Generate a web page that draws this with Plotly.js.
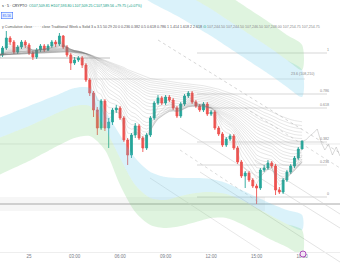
<!DOCTYPE html>
<html><head><meta charset="utf-8">
<script src="https://cdn.plot.ly/plotly-3.0.1.min.js"></script>
<style>html,body{margin:0;padding:0;background:#fff;overflow:hidden}#chart{width:340px;height:270px}</style>
</head><body><div id="chart"></div>
<script>
// ---- candle data (15-minute bars, 24 Jun 22:00 -> 25 Jun 18:00) ----
const opens = [108420,108450,108520,108620,108580,108480,108530,108580,108550,108470,108430,108500,108540,108500,108540,108580,108560,108640,108530,108450,108370,108400,108420,108350,108200,108070,107900,107720,107990,107720,107780,107900,107920,107820,107600,107450,107650,107740,107620,107520,107650,107820,107970,108020,107970,108030,108000,107920,107840,107960,108040,108070,107980,107940,107900,107960,107860,107880,107720,107660,107550,107610,107640,107520,107380,107240,107270,107200,107140,107120,107300,107320,107370,107340,107100,107080,107200,107280,107340,107420,107509.81];
const highs = [108480,108540,108690,108640,108600,108550,108600,108600,108570,108490,108520,108560,108560,108560,108600,108600,108670,108650,108550,108470,108430,108440,108440,108370,108220,108090,107930,108010,108010,107820,107920,107950,107940,107840,107620,107670,107770,107760,107640,107670,107840,107990,108050,108040,108050,108050,108020,107940,107980,108060,108090,108090,108000,107960,107980,107980,107900,107900,107740,107680,107630,107660,107660,107540,107400,107290,107290,107220,107160,107320,107350,107400,107390,107360,107130,107220,107300,107360,107440,107530,107593.80];
const lows = [108400,108430,108500,108550,108460,108460,108510,108520,108450,108400,108410,108480,108480,108490,108520,108530,108540,108510,108430,108300,108350,108380,108320,108180,108040,107830,107650,107700,107690,107520,107750,107870,107800,107580,107350,107420,107620,107600,107480,107500,107630,107800,107950,107950,107950,107980,107900,107820,107820,107940,108020,107960,107920,107880,107880,107840,107840,107700,107640,107530,107530,107590,107500,107360,107220,107120,107180,107120,106960,107100,107280,107300,107320,107050,107060,107060,107180,107260,107320,107400,107509.25];
const closes = [108450,108520,108620,108580,108480,108530,108580,108550,108470,108430,108500,108540,108500,108540,108580,108560,108640,108530,108450,108370,108400,108420,108350,108200,108070,107900,107720,107990,107720,107780,107900,107920,107820,107600,107450,107650,107740,107620,107520,107650,107820,107970,108020,107970,108030,108000,107920,107840,107960,108040,108070,107980,107940,107900,107960,107860,107880,107720,107660,107550,107610,107640,107520,107380,107240,107270,107200,107140,107120,107300,107320,107370,107340,107100,107080,107200,107280,107340,107420,107510,107589.56];

// ---- envelope bands (hourly, 22:00 -> 18:00) ----
const lowerInner = [107820,107880,107940,108000,108060,108120,108120,107900,107650,107420,107280,107230,107220,107220,107210,107170,107100,107030,106960,106900,106850];
const lowerMid   = [107620,107680,107740,107810,107880,107940,107940,107720,107420,107150,107020,107000,107040,107070,107080,107060,107000,106920,106840,106760,106700];
const lowerOuter = [107250,107320,107390,107470,107550,107620,107640,107500,107150,106880,106750,106720,106740,106780,106820,106820,106760,106680,106600,106530,106450];
const upperInner = [109800,109740,109680,109600,109520,109440,109360,109260,109170,109080,108980,108900,108820,108730,108640,108540,108440,108340,108240,108130,108030];
const upperMid   = [110070,110010,109950,109870,109790,109710,109630,109530,109440,109350,109250,109170,109090,109000,108910,108810,108710,108610,108510,108400,108300];
const upperOuter = [110320,110260,110200,110120,110040,109960,109880,109780,109690,109600,109500,109420,109340,109250,109160,109060,108960,108860,108760,108650,108550];

// ---- projection after last bar (15-minute steps from 18:00) ----
const projection = [107590,107600,107640,107670,107710,107580,107500,107560,107450,107530,107440];

// ---- ribbon lengths ----
const emaLengths = [3,5,7,9,11,13,15,18,21,24,27,30,34,38,42,46,50,55,60,66,72,80];

// ---- levels ----
const fibLabels = ['1','0.786','0.618','0.382','0.236','0'];
const fibPrices = [108470,108060,107920,107580,107350,107030];
const tickTimes = ['2025-06-25 00:00','2025-06-25 03:00','2025-06-25 06:00','2025-06-25 09:00','2025-06-25 12:00','2025-06-25 15:00','2025-06-25 18:00'];
const tickLabels = ['25','03:00','06:00','09:00','12:00','15:00','18:00'];

const T0 = Date.UTC(2025,5,24,22,0);
const ts = ms => new Date(ms).toISOString().slice(0,16).replace('T',' ');
const times = closes.map((_,i)=>ts(T0+i*900000));
const hourTimes = lowerInner.map((_,i)=>ts(T0+i*3600000));
const projTimes = projection.map((_,i)=>ts(T0+80*900000+i*900000));

function ema(arr,n){const k=2/(n+1);let e=arr[0];return arr.map(v=>(e=v*k+e*(1-k)));}

const traces = [];
const band = (a,b,color)=>({type:'scatter',mode:'lines',x:hourTimes.concat(hourTimes.slice().reverse()),y:a.concat(b.slice().reverse()),
  line:{width:0,shape:'spline',smoothing:0.8},fill:'toself',fillcolor:color,hoverinfo:'skip'});
const CY='rgba(100,200,235,0.24)', GR='rgba(120,210,120,0.24)';
traces.push(band(lowerInner,lowerMid,CY));
traces.push(band(lowerMid,lowerOuter,GR));
traces.push(band(upperInner,upperMid,CY));
traces.push(band(upperMid,upperOuter,GR));

emaLengths.forEach(n=>traces.push({type:'scatter',mode:'lines',x:times,y:ema(closes,n),line:{color:'rgba(120,120,120,0.36)',width:0.5},hoverinfo:'skip'}));

traces.push({type:'scatter',mode:'lines',x:projTimes,y:projection,line:{color:'rgba(150,150,150,0.6)',width:0.6},hoverinfo:'skip'});

traces.push({type:'candlestick',x:times,open:opens,high:highs,low:lows,close:closes,whiskerwidth:0,
  increasing:{line:{color:'#26a69a',width:0.9},fillcolor:'#26a69a'},
  decreasing:{line:{color:'#ef5350',width:0.9},fillcolor:'#ef5350'},hoverinfo:'skip'});

const X = px=>px/340, Y = py=>1-py/252;
const shapes = [];
const hline=(y,x0,x1,color,w,dash)=>shapes.push({type:'line',xref:'paper',yref:'y',x0:X(x0),x1:X(x1),y0:y,y1:y,line:{color:color,width:w,dash:dash||'solid'},layer:'below'});
fibPrices.forEach(p=>hline(p,197,327,'#bdbdbd',0.6));
hline(108210,0,305,'#d0d0d0',0.6);
hline(108420,0,110,'#b0b0b0',0.8);
hline(107560,0,340,'#dcdcdc',0.6);
shapes.push({type:'rect',xref:'paper',yref:'y',x0:0,x1:X(265),y0:106890,y1:107030,fillcolor:'rgba(0,0,0,0.035)',line:{width:0},layer:'below'});
hline(106960,0,340,'#a8a8a8',1);
const dline=(x0,y0,x1,y1,color,dash)=>shapes.push({type:'line',xref:'paper',yref:'paper',x0:X(x0),y0:Y(y0),x1:X(x1),y1:Y(y1),line:{color:color,width:0.6,dash:dash},layer:'below'});
dline(158,40,340,153,'#bbbbbb','dot');
dline(245,108,340,168,'#c4c4c4','dot');
dline(180,150,260,203,'#c4c4c4','dot');
dline(180,128,340,228,'#d0d0d0','solid');
dline(200,172,340,262,'#d0d0d0','solid');
dline(255,160,340,214,'#d0d0d0','solid');
dline(150,178,260,250,'#d8d8d8','solid');
shapes.push({type:'circle',xref:'paper',yref:'paper',x0:X(300),x1:X(306),y0:Y(251),y1:Y(257),line:{color:'#9c27b0',width:0.8},fillcolor:'#f3e5f5'});

const F='Liberation Sans, Arial, sans-serif';
const ann = [];
ann.push({xref:'paper',yref:'paper',x:X(0),y:Y(6),xanchor:'left',yanchor:'middle',showarrow:false,font:{family:F,size:3.6,color:'#131722'},
  text:'s · 5 · CRYPTO  <span style="color:#089981">O107,509.81 H107,593.80 L107,509.25 C107,589.56 +79.75 (+0.07%)</span>'});
ann.push({xref:'paper',yref:'paper',x:X(1),y:Y(15.5),xanchor:'left',yanchor:'middle',showarrow:false,font:{family:F,size:3.4,color:'#2962ff'},
  text:'85.56',bgcolor:'#e8f0fe',bordercolor:'#2962ff',borderwidth:0.5,borderpad:1});
ann.push({xref:'paper',yref:'paper',x:X(0),y:Y(27),xanchor:'left',yanchor:'middle',showarrow:false,font:{family:F,size:3.6,color:'#555'},
  text:'y Cumulative close · · · · close Traditional Week a Solid 3 a 3.5 50 29 20 0 0.236 0.382 0.5 0.618 0.786 1 1.414 1.618 2 2.618 <span style="color:#089981">⊙</span> <span style="color:#888">107,244.50 107,244.50 107,246.50 107,248.00 107,254.75 107,254.75</span>'});
fibLabels.forEach((t,i)=>ann.push({xref:'paper',yref:'y',x:X(331),y:fibPrices[i],xanchor:'right',yanchor:'bottom',showarrow:false,font:{family:F,size:3.6,color:'#888'},text:t,yshift:-1}));
ann.push({xref:'paper',yref:'y',x:X(316),y:108210,xanchor:'right',yanchor:'bottom',showarrow:false,font:{family:F,size:3.6,color:'#888'},text:'23.6 (108,210)',yshift:1});

const layout = {width:340,height:270,margin:{l:0,r:0,t:0,b:18},paper_bgcolor:'#fff',plot_bgcolor:'#fff',showlegend:false,
  xaxis:{type:'date',range:['2025-06-24 22:05','2025-06-25 20:30'],rangeslider:{visible:false},showgrid:false,zeroline:false,showline:true,linecolor:'#eeeeee',linewidth:1,
    tickmode:'array',tickvals:tickTimes,ticktext:tickLabels,ticks:'',tickfont:{family:F,size:4.5,color:'#787b86'}},
  yaxis:{range:[106480,109000],showgrid:false,zeroline:false,showticklabels:false,fixedrange:true},
  shapes:shapes,annotations:ann};
Plotly.newPlot('chart',traces,layout,{staticPlot:true,displayModeBar:false});
</script></body></html>
